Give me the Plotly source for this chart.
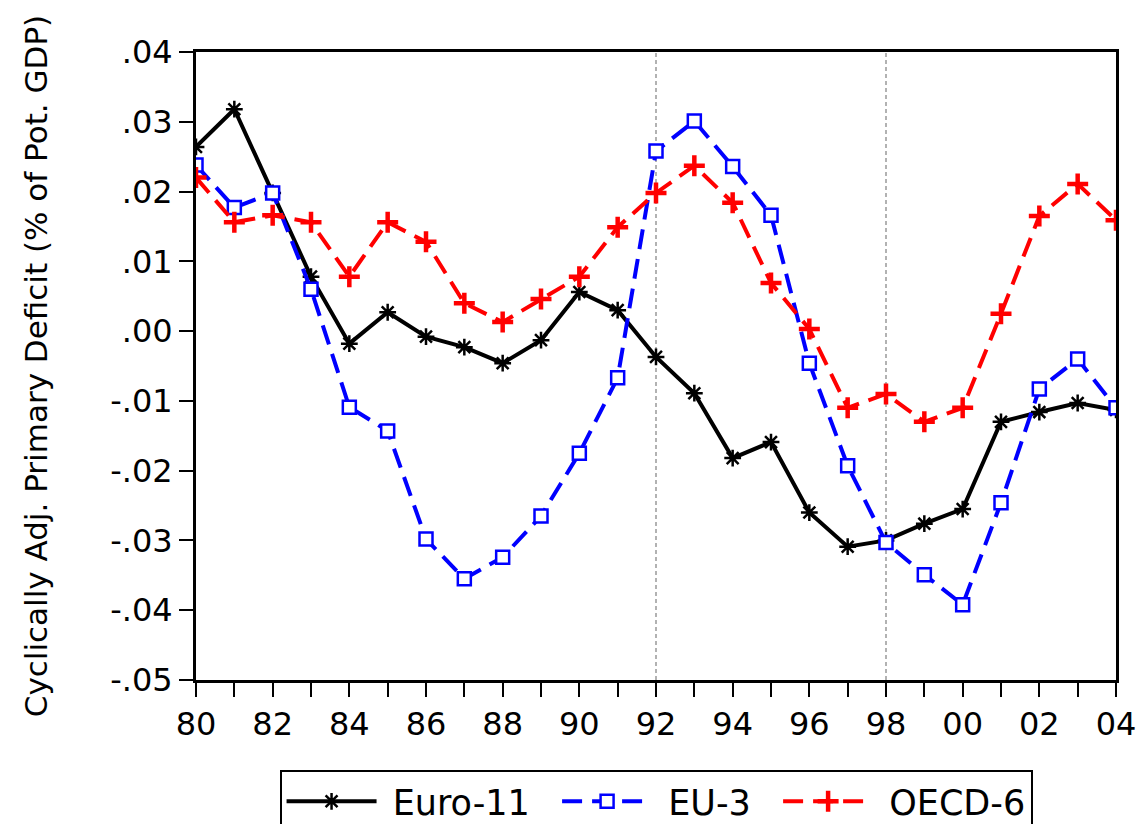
import plotly.graph_objects as go

years = list(range(1980, 2005))
tick_years = list(range(1980, 2005, 2))
tick_labels = ["80", "82", "84", "86", "88", "90", "92", "94", "96", "98", "00", "02", "04"]
y_ticks = [0.04, 0.03, 0.02, 0.01, 0.0, -0.01, -0.02, -0.03, -0.04, -0.05]
y_tick_labels = [".04", ".03", ".02", ".01", ".00", "-.01", "-.02", "-.03", "-.04", "-.05"]
marker_lines = [1992, 1998]

euro11 = [0.0264, 0.0318, 0.0198, 0.0078, -0.0018, 0.0027, -0.0008, -0.0023, -0.0046, -0.0013,
          0.0056, 0.0030, -0.0037, -0.0089, -0.0182, -0.0159, -0.0260, -0.0309, -0.0300, -0.0276,
          -0.0255, -0.0130, -0.0116, -0.0103, -0.0113]
eu3 = [0.0238, 0.0177, 0.0198, 0.0060, -0.0109, -0.0143, -0.0298, -0.0355, -0.0324, -0.0265,
       -0.0175, -0.0067, 0.0258, 0.0301, 0.0236, 0.0166, -0.0046, -0.0193, -0.0303, -0.0349,
       -0.0392, -0.0246, -0.0083, -0.0040, -0.0110]
oecd6 = [0.0220, 0.0156, 0.0166, 0.0156, 0.0078, 0.0156, 0.0128, 0.0040, 0.0013, 0.0046,
         0.0078, 0.0149, 0.0198, 0.0237, 0.0184, 0.0069, 0.0003, -0.0110, -0.0090, -0.0130,
         -0.0110, 0.0025, 0.0165, 0.0211, 0.0159]

font_family = "DejaVu Sans, Liberation Sans, sans-serif"
NB = "\u00a0"  # non-breaking space used to pad legend entries

fig = go.Figure()

for yr in marker_lines:
    fig.add_shape(type="line", x0=yr, x1=yr, y0=-0.05, y1=0.04, xref="x", yref="y",
                  line=dict(color="#999999", width=1.5, dash="4px,3px"), layer="below")

fig.add_trace(go.Scatter(
    x=years, y=euro11, name=NB + "Euro-11" + NB * 2, mode="lines+markers",
    line=dict(color="black", width=4),
    marker=dict(symbol="asterisk-open", size=14, color="black", line=dict(color="black", width=2.5)),
))
fig.add_trace(go.Scatter(
    x=years, y=eu3, name=NB + "EU-3" + NB * 2, mode="lines+markers",
    line=dict(color="#0000ff", width=4, dash="20px,10px"),
    marker=dict(symbol="square", size=13, color="white", line=dict(color="#0000ff", width=2.5)),
))
fig.add_trace(go.Scatter(
    x=years, y=oecd6, name=NB + "OECD-6", mode="lines+markers",
    line=dict(color="#ff0000", width=4, dash="20px,10px"),
    marker=dict(symbol="cross-thin-open", size=15, color="#ff0000", line=dict(color="#ff0000", width=4.5)),
))

fig.update_layout(
    width=1138, height=824,
    margin=dict(l=196, r=22, t=52, b=144),
    paper_bgcolor="white", plot_bgcolor="white",
    font=dict(family=font_family, size=32, color="black"),
    showlegend=True,
    legend=dict(
        orientation="h", xref="container", yref="container",
        x=0.5765, xanchor="center", y=0.0655, yanchor="top",
        bordercolor="black", borderwidth=2, font=dict(size=35),
        itemwidth=90, tracegroupgap=0,
    ),
    xaxis=dict(
        range=[1980, 2004], tickmode="array", tickvals=tick_years, ticktext=tick_labels,
        ticks="outside", ticklen=14, tickwidth=2, tickcolor="black",
        showline=True, linecolor="black", linewidth=3, mirror=True, automargin=False,
        showgrid=False, zeroline=False, minor=dict(ticks="outside", ticklen=14, tickwidth=2,
                                                  tickcolor="black", dtick=1, showgrid=False),
    ),
    yaxis=dict(
        range=[-0.05, 0.04], tickmode="array", tickvals=y_ticks, ticktext=y_tick_labels,
        ticks="outside", ticklen=14, tickwidth=2, tickcolor="black",
        showline=True, linecolor="black", linewidth=3, mirror=True, automargin=False,
        showgrid=False, zeroline=False,
        title=dict(text="Cyclically Adj. Primary Deficit (% of Pot. GDP)", font=dict(size=31), standoff=54),
    ),
)

fig.write_html("out.html")
